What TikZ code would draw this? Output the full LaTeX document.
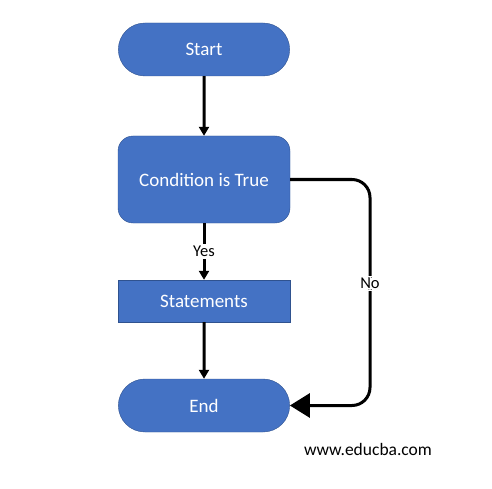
\documentclass[tikz,border=0pt]{standalone}
\usepackage{fontspec}
\setmainfont{Carlito}
\usetikzlibrary{shapes.misc, arrows.meta, positioning, calc}
\definecolor{boxblue}{RGB}{68, 114, 196}
\definecolor{boxedge}{RGB}{47, 82, 143}

\tikzset{
  terminal/.style={rounded rectangle, fill=boxblue, draw=boxedge, thin,
    minimum width=178pt, minimum height=53pt, text=white, font=\fontsize{19}{22}\selectfont},
  decision/.style={rectangle, rounded corners=15pt, fill=boxblue, draw=boxedge, thin,
    minimum width=172pt, minimum height=87pt, text=white, font=\fontsize{19}{22}\selectfont},
  process/.style={rectangle, fill=boxblue, draw=boxedge, thin,
    minimum width=172pt, minimum height=42pt, text=white, font=\fontsize{19}{22}\selectfont},
  flow/.style={line width=3pt, -{Triangle[length=9pt, width=10pt]}},
  bigflow/.style={line width=3pt, rounded corners=18pt, -{Triangle[length=20pt, width=24pt]}},
  lbl/.style={fill=white, inner sep=2pt, font=\fontsize{16.5}{19}\selectfont}
}

\begin{document}
\begin{tikzpicture}[x=1pt, y=-1pt]
  \useasboundingbox (0,0) rectangle (492,489);

  \node[terminal] (start) at (204,49.5) {Start};
  \node[decision] (cond) at (204,179.5) {Condition is True};
  \node[process] (stat) at (204,301) {Statements};
  \node[terminal] (end) at (204,405.5) {End};
  \coordinate (nox) at (370,0);

  \draw[flow] (start) -- (cond);
  \draw[flow] (cond) -- node[lbl] {Yes} (stat);
  \draw[flow] (stat) -- (end);
  \draw[bigflow] (cond.east) -- (cond.east -| nox)
    -- node[lbl, pos=0.46] {No} (end.east -| nox) -- (end.east);

  \node[font=\fontsize{17.5}{20}\selectfont] (web) at (368,449) {www.educba.com};
\end{tikzpicture}
\end{document}
